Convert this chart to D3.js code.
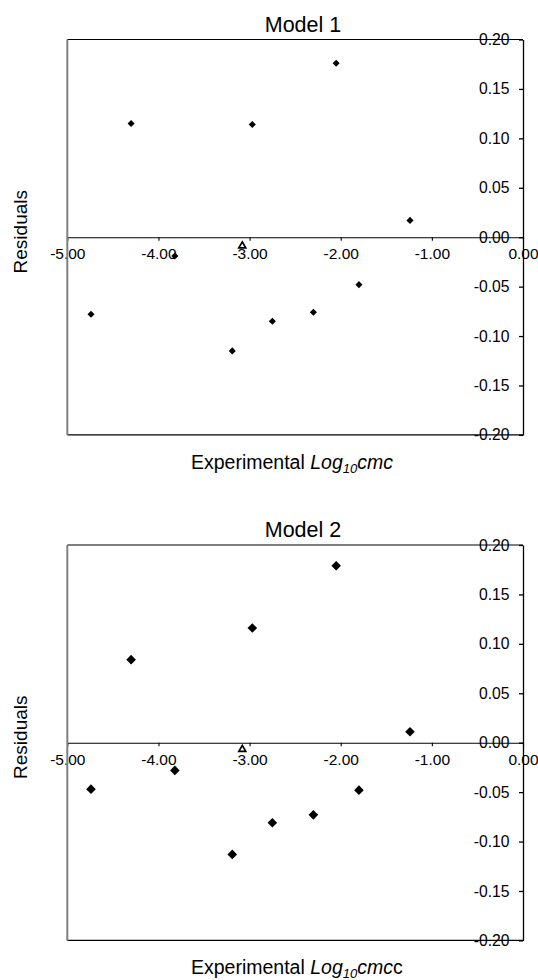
<!DOCTYPE html>
<html>
<head>
<meta charset="utf-8">
<script src="https://cdn.jsdelivr.net/npm/d3@7"></script>
<style>
  body { margin: 0; background: #fff; }
  svg { display: block; font-family: "Liberation Sans", Arial, sans-serif; }
</style>
</head>
<body>
<div id="chart"></div>
<script>
// Values
const xTicks = [-5, -4, -3, -2, -1, 0];
const yTicks = [-0.20, -0.15, -0.10, -0.05, 0.00, 0.05, 0.10, 0.15, 0.20];
const expLogCmc = [-4.74, -4.30, -3.82, -3.19, -2.97, -2.75, -2.30, -2.05, -1.80, -1.24];
const model1Residuals = [-0.078, 0.115, -0.019, -0.115, 0.114, -0.085, -0.076, 0.176, -0.048, 0.017];
const model2Residuals = [-0.047, 0.084, -0.028, -0.113, 0.116, -0.081, -0.073, 0.179, -0.048, 0.011];
const outlierX = [-3.08];
const model1Outlier = [-0.008];
const model2Outlier = [-0.006];

const W = 538, H = 980;
const svg = d3.select("#chart").append("svg").attr("width", W).attr("height", H);

// Draw One Residual Panel
function drawPanel(top, title, residuals, outlier, markerSize, suffix) {
  let left = 67.3, right = 523, plotTop = top, plotBottom = top + 395.4;
  let x = d3.scaleLinear().domain([-5, 0]).range([left, right]);
  let y = d3.scaleLinear().domain([-0.2, 0.2]).range([plotBottom, plotTop]);
  let fmt = (d) => d.toFixed(2);
  let g = svg.append("g");

  // Title
  g.append("text").attr("x", 303).attr("y", top - 8).attr("text-anchor", "middle")
    .style("font-size", "21.5px").text(title);

  // Y Axis On The Right Edge, Ticks Inside
  let yAxis = g.append("g").attr("transform", "translate(" + right + ",0)")
    .call(d3.axisLeft(y).tickValues(yTicks).tickSize(4).tickSizeOuter(0).tickPadding(9.5).tickFormat(fmt));
  yAxis.selectAll("text").style("font-size", "15.7px").attr("fill", "#000");
  yAxis.selectAll("line, path").attr("stroke", "#000").attr("stroke-width", 1.3);

  // X Axis Along Zero Line
  let xAxis = g.append("g").attr("transform", "translate(0," + y(0) + ")")
    .call(d3.axisBottom(x).tickValues(xTicks).tickSize(3.5).tickSizeOuter(0).tickPadding(7.5).tickFormat(fmt));
  xAxis.selectAll("text").style("font-size", "15.5px").attr("fill", "#000");
  xAxis.selectAll("line, path").attr("stroke", "#000").attr("stroke-width", 1.1);

  // Plot Area Border
  g.append("line").attr("x1", left).attr("x2", right).attr("y1", plotTop).attr("y2", plotTop).attr("stroke", "#000").attr("stroke-width", 1.1);
  g.append("line").attr("x1", left).attr("x2", right).attr("y1", plotBottom).attr("y2", plotBottom).attr("stroke", "#000").attr("stroke-width", 1.1);
  g.append("line").attr("x1", left).attr("x2", left).attr("y1", plotTop).attr("y2", plotBottom).attr("stroke", "#808080").attr("stroke-width", 2);

  // Diamond Markers
  let diamond = d3.symbol().type(d3.symbolSquare).size(markerSize);
  g.selectAll("path.pt").data(expLogCmc.map((v, i) => [v, residuals[i]])).enter().append("path")
    .attr("class", "pt").attr("d", diamond)
    .attr("transform", (d) => "translate(" + x(d[0]) + "," + y(d[1]) + ") rotate(45)")
    .attr("fill", "#000");

  // Open Triangle Marker
  let tri = d3.symbol().type(d3.symbolTriangle).size(21);
  g.selectAll("path.tri").data(outlierX.map((v, i) => [v, outlier[i]])).enter().append("path")
    .attr("class", "tri").attr("d", tri)
    .attr("transform", (d) => "translate(" + x(d[0]) + "," + (y(d[1]) + 0.8) + ")")
    .attr("fill", "#fff").attr("stroke", "#000").attr("stroke-width", 1.7);

  // Y Axis Title
  g.append("text").attr("transform", "translate(27," + (y(0) - 5.5) + ") rotate(-90)")
    .attr("text-anchor", "middle").style("font-size", "19px").text("Residuals");

  // X Axis Title With Subscript
  let t = g.append("text").attr("x", 191).attr("y", plotBottom + 34).style("font-size", "19.5px");
  t.append("tspan").text("Experimental ");
  t.append("tspan").style("font-style", "italic").text("Log");
  t.append("tspan").style("font-style", "italic").style("font-size", "13px").attr("dy", 4).text("10");
  t.append("tspan").style("font-style", "italic").attr("dy", -4).text("cmc");
  if (suffix) t.append("tspan").text(suffix);
}

drawPanel(39.5, "Model 1", model1Residuals, model1Outlier, 25, "");
drawPanel(545, "Model 2", model2Residuals, model2Outlier, 46, "c");
</script>
</body>
</html>
